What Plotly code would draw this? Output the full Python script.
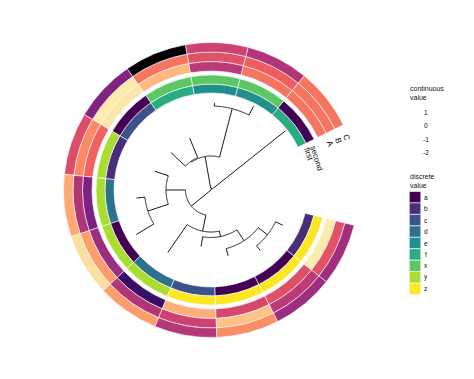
import plotly.graph_objects as go
import numpy as np

W, H = 474, 379

# ---------------- data ----------------
tips = [f"t{i}" for i in range(1, 14)]
first_vals = ["f", "e", "e", "f", "c", "b", "d", "a", "d", "c", "a", "a", "b"]
second_vals = ["a", "x", "x", "x", "a", "y", "y", "y", "y", "z", "z", "z", "z"]
A_vals = [0.68, 0.68, -0.16, 1.27, 1.69, 0.51, -0.79, -0.45, -1.50, 1.19, 0.14, 0.26, 1.73]
B_vals = [0.68, 0.47, 0.30, 0.68, 1.73, 0.85, -0.24, 1.02, -0.24, 0.05, 1.35, -0.12, 0.30]
C_vals = [0.68, -0.24, 0.05, -2.30, -0.75, 0.22, 1.14, 1.61, 1.02, -0.20, 0.89, -0.45, -0.41]
levels = ["a", "b", "c", "d", "e", "f", "x", "y", "z"]
cont_ticks = ["1", "0", "-1", "-2"]
col_labels = ["first", "second", "A", "B", "C"]

# tree: node, parent, distance from root
node_names = ["R", "Y", "t1", "NA", "N23", "t2", "t3", "N45", "t4", "t5",
              "NB", "N678", "t6", "N78", "t7", "t8", "NC", "t9", "ND", "t10",
              "NE", "t11", "NF", "t12", "t13"]
node_parent = [None, "R", "Y", "Y", "NA", "N23", "N23", "NA", "N45", "N45",
               "R", "NB", "N678", "N678", "N78", "N78", "NB", "NC", "NC", "ND",
               "ND", "NE", "NE", "NF", "NF"]
node_depth = [-7, 2, 95, 34, 84, 94, 87, 35, 56, 55,
              25.5, 45, 59.5, 66.5, 75, 87, 42, 76, 47.5, 57.5,
              60.5, 68, 72, 78, 80]

# ---------------- layout constants ----------------
cx, cy, RPX = 211.0, 190.0, 148.0
THETA0, STEP = 38.5, 24.61
viridis = {"a": "#440154", "b": "#472D7B", "c": "#3B528B", "d": "#2C728E",
           "e": "#21908C", "f": "#27AD81", "x": "#5DC863", "y": "#AADC32", "z": "#FDE725"}
CMIN, CMAX = -2.3, 1.9
rings = [(97, 9), (106, 9), (119, 9.5), (128.5, 9.5), (138, 9.5)]

tip_theta = [THETA0 + STEP * i for i in range(len(tips))]

# compute node angles
depth = dict(zip(node_names, node_depth))
parent = dict(zip(node_names, node_parent))
children = {n: [] for n in node_names}
for n, p in parent.items():
    if p is not None:
        children[p].append(n)
theta = {}
def get_theta(n):
    if n in theta:
        return theta[n]
    if n in tips:
        theta[n] = tip_theta[tips.index(n)]
    else:
        theta[n] = float(np.mean([get_theta(c) for c in children[n]]))
    return theta[n]
for n in node_names:
    get_theta(n)

tr, tt = [], []
for n in node_names:
    p = parent[n]
    if p is not None:
        tr += [depth[p], depth[n], None]
        tt += [theta[n], theta[n], None]
    if children[n]:
        ths = [theta[c] for c in children[n]]
        a = np.linspace(min(ths), max(ths), 60)
        tr += [depth[n]] * len(a) + [None]
        tt += list(a) + [None]

fig = go.Figure()

widths = [STEP] * len(tips)
ring_data = [first_vals, second_vals, A_vals, B_vals, C_vals]
for k, (vals, (base, h)) in enumerate(zip(ring_data, rings)):
    if k < 2:
        marker = dict(color=[viridis[v] for v in vals], line=dict(color="white", width=0.6))
    else:
        marker = dict(color=vals, colorscale="Magma", cmin=CMIN, cmax=CMAX,
                      showscale=False, line=dict(color="white", width=0.6))
    fig.add_trace(go.Barpolar(r=[h] * len(tips), base=[base] * len(tips), theta=tip_theta,
                              width=widths, marker=marker, showlegend=False,
                              hoverinfo="skip"))

fig.add_trace(go.Scatterpolar(r=tr, theta=tt, mode="lines",
                              line=dict(color="#1a1a1a", width=1),
                              showlegend=False, hoverinfo="skip"))

# column labels (tangential)
lab_r = [103.5, 110.5, 127.5, 136.5, 145.5]
lab_th = [19.8, 16.8, 21.3, 21.3, 21.3]
ann = []
for t, r, th in zip(col_labels, lab_r, lab_th):
    x = (cx + r * np.cos(np.radians(th))) / W
    y = 1 - (cy - r * np.sin(np.radians(th))) / H
    ann.append(dict(x=x, y=y, xref="paper", yref="paper", text=t, showarrow=False,
                    textangle=90 - th, xanchor="center", yanchor="middle",
                    font=dict(size=8, color="#111111", family="Liberation Sans")))

# legends
LX = 408
ann.append(dict(x=LX / W, y=1 - 83 / H, xref="paper", yref="paper", text="continuous<br>value",
                showarrow=False, xanchor="left", yanchor="top", align="left",
                font=dict(size=7, color="#111111", family="Liberation Sans")))
for i, t in enumerate(cont_ticks):
    ann.append(dict(x=425.5 / W, y=1 - (112.7 + 13.2 * i) / H, xref="paper", yref="paper",
                    text=t, showarrow=False, xanchor="center", yanchor="middle",
                    font=dict(size=6.5, color="#111111", family="Liberation Sans")))
ann.append(dict(x=LX / W, y=1 - 171 / H, xref="paper", yref="paper", text="discrete<br>value",
                showarrow=False, xanchor="left", yanchor="top", align="left",
                font=dict(size=7, color="#111111", family="Liberation Sans")))
shapes = []
KY, KH = 191.5, 11.45
for i, lv in enumerate(levels):
    y0 = KY + KH * i
    shapes.append(dict(type="rect", xref="paper", yref="paper",
                       x0=409.3 / W, x1=420.8 / W, y0=1 - y0 / H, y1=1 - (y0 + KH) / H,
                       fillcolor=viridis[lv], line=dict(color="white", width=0.6)))
    ann.append(dict(x=425.5 / W, y=1 - (y0 + KH / 2) / H, xref="paper", yref="paper",
                    text=lv, showarrow=False, xanchor="center", yanchor="middle",
                    font=dict(size=6.5, color="#111111", family="Liberation Sans")))

fig.update_layout(
    width=W, height=H, margin=dict(l=0, r=0, t=0, b=0),
    paper_bgcolor="white", plot_bgcolor="white",
    polar=dict(
        domain=dict(x=[(cx - RPX) / W, (cx + RPX) / W], y=[1 - (cy + RPX) / H, 1 - (cy - RPX) / H]),
        radialaxis=dict(visible=False, range=[0, RPX], showgrid=False),
        angularaxis=dict(visible=False, direction="counterclockwise", rotation=0, showgrid=False),
        bgcolor="rgba(0,0,0,0)", bargap=0,
    ),
    annotations=ann, shapes=shapes, showlegend=False,
)
fig.write_html("out.html", config={"displayModeBar": False, "staticPlot": True},
               post_script="document.body.style.margin='0';document.body.style.overflow='hidden';")
